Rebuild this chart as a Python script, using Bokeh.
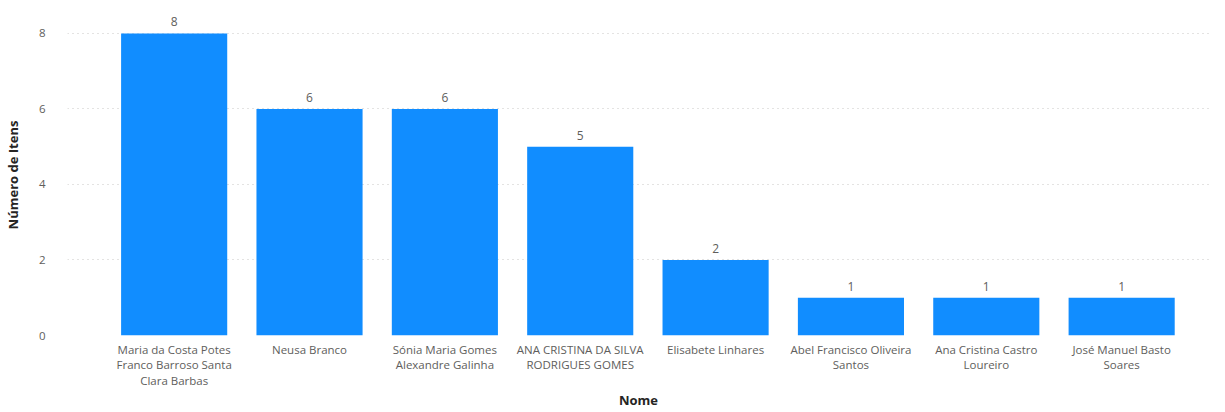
from bokeh.plotting import figure
from bokeh.models import Range1d, FixedTicker, ColumnDataSource
from bokeh.core.properties import value
from bokeh.embed import file_html
from bokeh.resources import INLINE

names = [
    "Maria da Costa Potes\nFranco Barroso Santa\nClara Barbas",
    "Neusa Branco",
    "Sónia Maria Gomes\nAlexandre Galinha",
    "ANA CRISTINA DA SILVA\nRODRIGUES GOMES",
    "Elisabete Linhares",
    "Abel Francisco Oliveira\nSantos",
    "Ana Cristina Castro\nLoureiro",
    "José Manuel Basto\nSoares",
]
counts = [8, 6, 6, 5, 2, 1, 1, 1]
y_ticks = [0, 2, 4, 6, 8]

FONT = "Open Sans"
pos = list(range(len(names)))
src = ColumnDataSource(dict(x=pos, y=counts, lbl=[str(c) for c in counts]))

p = figure(width=1209, height=412, output_backend="svg", toolbar_location=None,
           x_range=Range1d(-0.788, 7.649), y_range=Range1d(0, 8.5),
           min_border_top=14, min_border_right=0, min_border_left=10, min_border_bottom=0)
p.outline_line_color = None
p.background_fill_color = "white"
p.border_fill_color = "white"

p.vbar(x="x", top="y", width=0.784, bottom=0, source=src, color="#118DFF", line_color=None)
p.text(x="x", y="y", text="lbl", source=src, text_align="center", text_baseline="bottom",
       y_offset=-7, text_font=value(FONT), text_font_size="12px", text_color="#605E5C")

p.xaxis.ticker = FixedTicker(ticks=pos)
p.xaxis.major_label_overrides = {i: n for i, n in enumerate(names)}
p.yaxis.ticker = FixedTicker(ticks=y_ticks)

for ax in (p.xaxis, p.yaxis):
    ax.axis_line_color = None
    ax.major_tick_line_color = None
    ax.minor_tick_line_color = None
    ax.major_tick_out = 0
    ax.major_tick_in = 0
    ax.minor_tick_out = 0
    ax.minor_tick_in = 0
    ax.major_label_text_font = FONT
    ax.major_label_text_font_size = "11.5px"
    ax.major_label_text_color = "#605E5C"
    ax.major_label_text_line_height = 1.05
    ax.axis_label_text_font = FONT
    ax.axis_label_text_font_size = "13px"
    ax.axis_label_text_font_style = "bold"
    ax.axis_label_text_color = "#252423"
    ax.axis_label_text_line_height = 1.0

p.xaxis.axis_label = "Nome"
p.yaxis.axis_label = "Número de Itens"
p.xaxis.major_label_standoff = 6
p.xaxis.axis_label_standoff = 0
p.yaxis.major_label_standoff = 22
p.yaxis.axis_label_standoff = 14

p.xgrid.grid_line_color = None
p.ygrid.grid_line_color = "#C8C6C4"
p.ygrid.grid_line_dash = "1 4"
p.ygrid.grid_line_width = 1

open("out.html", "w").write(file_html(p, INLINE))
